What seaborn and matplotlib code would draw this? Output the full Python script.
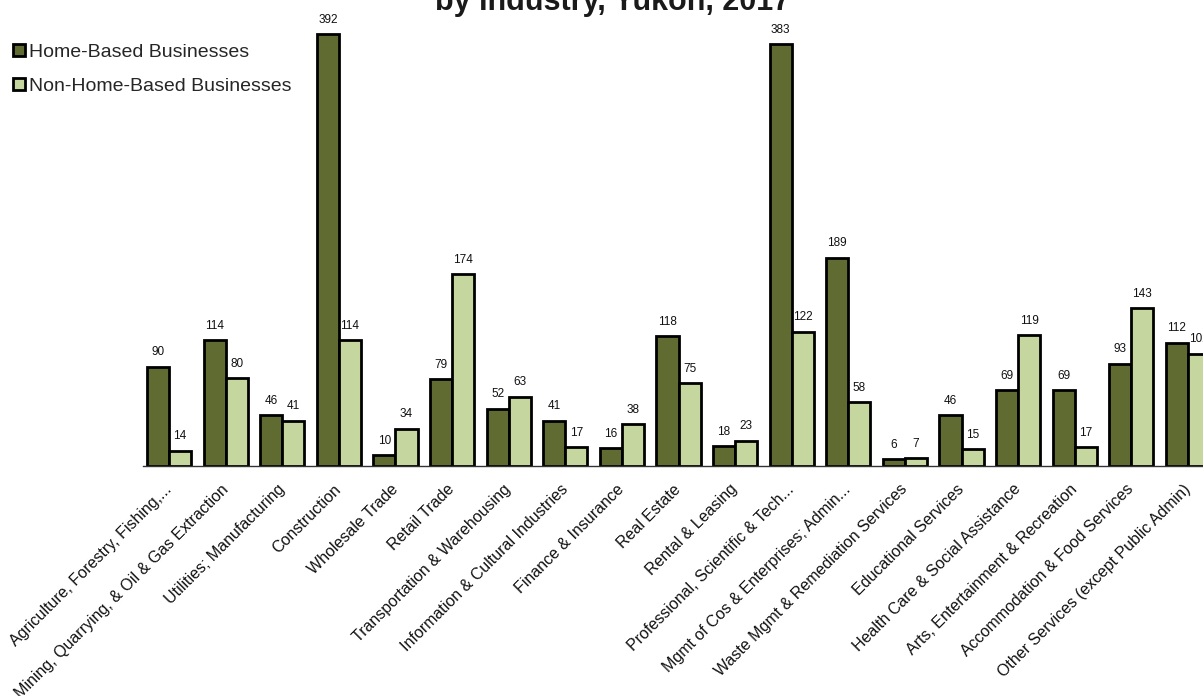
import pandas as pd
import seaborn as sns
import matplotlib.pyplot as plt
from matplotlib.lines import Line2D

# data
industries = [
    "Agriculture, Forestry, Fishing,...",
    "Mining, Quarrying, & Oil & Gas Extraction",
    "Utilities; Manufacturing",
    "Construction",
    "Wholesale Trade",
    "Retail Trade",
    "Transportation & Warehousing",
    "Information & Cultural Industries",
    "Finance & Insurance",
    "Real Estate",
    "Rental & Leasing",
    "Professional, Scientific & Tech...",
    "Mgmt of Cos & Enterprises; Admin...",
    "Waste Mgmt & Remediation Services",
    "Educational Services",
    "Health Care & Social Assistance",
    "Arts, Entertainment & Recreation",
    "Accommodation & Food Services",
    "Other Services (except Public Admin)",
]
home_based = [90, 114, 46, 392, 10, 79, 52, 41, 16, 118, 18, 383, 189, 6, 46, 69, 69, 93, 112]
non_home_based = [14, 80, 41, 114, 34, 174, 63, 17, 38, 75, 23, 122, 58, 7, 15, 119, 17, 143, 102]
series = ["Home-Based Businesses", "Non-Home-Based Businesses"]
colors = ["#5f6b30", "#c5d69e"]

df = pd.DataFrame({
    "Industry": industries * 2,
    "Type": [series[0]] * len(industries) + [series[1]] * len(industries),
    "Count": home_based + non_home_based,
})

sns.set_style("white")
plt.rcParams["font.family"] = ["Liberation Sans", "DejaVu Sans"]

fig = plt.figure(figsize=(12.03, 6.96), dpi=100)
ax = fig.add_axes([143 / 1203, 230 / 696, (1214 - 143) / 1203, 440.8 / 696])

sns.barplot(data=df, x="Industry", y="Count", hue="Type", palette=colors,
            saturation=1, width=0.78, edgecolor="black", linewidth=2,
            legend=False, ax=ax)

ax.set_ylim(0, 400)
ax.set_xlim(-0.46, 18.46)
for c in ax.containers:
    ax.bar_label(c, fontsize=8.5, padding=6, color="#111111")

for side in ["top", "right", "left"]:
    ax.spines[side].set_visible(False)
ax.spines["bottom"].set_color("#333333")
ax.spines["bottom"].set_linewidth(1)
ax.set_yticks([])
ax.set_xlabel("")
ax.set_ylabel("")
ax.tick_params(axis="x", length=0, pad=15)
plt.setp(ax.get_xticklabels(), rotation=45, ha="right", va="center",
         rotation_mode="anchor", fontsize=11.5, color="#111111")

handles = [Line2D([], [], marker="s", linestyle="", markersize=8,
                  markerfacecolor=col, markeredgecolor="black", markeredgewidth=2)
           for col in colors]
fig.legend(handles, series, loc="upper left", bbox_to_anchor=(0.0, 0.957),
           frameon=False, fontsize=14, handlelength=0.6, handletextpad=0.2,
           labelspacing=0.85, borderaxespad=0.3)

fig.text(613 / 1203, 1 - 10 / 696, "by Industry, Yukon, 2017", ha="center",
         va="baseline", fontsize=22, fontweight="bold", color="#1a1a1a")

fig.savefig("out.png", dpi=100)
